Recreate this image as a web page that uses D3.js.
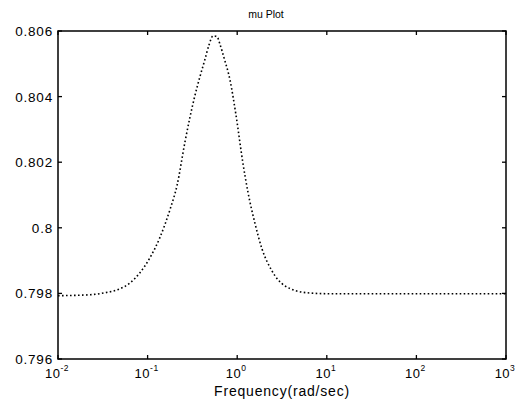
<!DOCTYPE html>
<html>
<head>
<meta charset="utf-8">
<script src="https://cdn.jsdelivr.net/npm/d3@7"></script>
<style>
  body { margin: 0; background: #fff; }
  text { font-family: "Liberation Sans", Arial, sans-serif; fill: #000; }
</style>
</head>
<body>
<div id="chart"></div>
<script>
// frequency (rad/sec) and mu values
const freq = [0.01, 0.0228, 0.0335, 0.0492, 0.0637, 0.0822, 0.1064, 0.137, 0.178, 0.213,
  0.261, 0.297, 0.338, 0.385, 0.437, 0.484, 0.537, 0.595, 0.643, 0.713, 0.832,
  0.970, 1.16, 1.32, 1.58, 1.89, 2.44, 3.41, 6.01, 10.9, 65.6, 1000];
const mu = [0.79793, 0.79796, 0.79802, 0.79814, 0.79832, 0.79863, 0.79909, 0.7997, 0.80056, 0.80129,
  0.80261, 0.80337, 0.80404, 0.80462, 0.80514, 0.80557, 0.80585, 0.80583, 0.80559, 0.80518, 0.8045,
  0.80343, 0.80196, 0.80108, 0.80013, 0.79936, 0.79869, 0.79823, 0.79802, 0.79799, 0.79799, 0.79799];
const yTicks = [0.796, 0.798, 0.8, 0.802, 0.804, 0.806];
const xTicks = [1e-2, 1e-1, 1e0, 1e1, 1e2, 1e3];
const xExps = ["-2", "-1", "0", "1", "2", "3"];

const W = 531, H = 403;
const margin = { top: 31, right: 25, bottom: 44, left: 58 };
const width = W - margin.left - margin.right;
const height = H - margin.top - margin.bottom;

const svg = d3.select("#chart").append("svg")
  .attr("width", W).attr("height", H);
const g = svg.append("g")
  .attr("transform", `translate(${margin.left},${margin.top})`);

const x = d3.scaleLog().domain([1e-2, 1e3]).range([0, width]);
const y = d3.scaleLinear().domain([0.796, 0.806]).range([height, 0]);

// curve
const line = d3.line()
  .x((d, i) => x(freq[i]))
  .y((d) => y(d))
  .curve(d3.curveMonotoneX);

g.append("path")
  .datum(mu)
  .attr("d", line)
  .attr("fill", "none")
  .attr("stroke", "#000")
  .attr("stroke-width", 1.6)
  .attr("stroke-dasharray", "1.6,2.4");

// box
g.append("rect")
  .attr("width", width).attr("height", height)
  .attr("fill", "none").attr("stroke", "#000").attr("stroke-width", 1.5);

// ticks, inside on all four sides
const tl = 4;
yTicks.forEach((t) => {
  g.append("line").attr("x1", 0).attr("x2", tl).attr("y1", y(t)).attr("y2", y(t))
    .attr("stroke", "#000").attr("stroke-width", 1.3);
  g.append("line").attr("x1", width).attr("x2", width - tl).attr("y1", y(t)).attr("y2", y(t))
    .attr("stroke", "#000").attr("stroke-width", 1.3);
  g.append("text")
    .attr("x", -5).attr("y", y(t) + 5)
    .attr("text-anchor", "end")
    .attr("font-size", 13.5)
    .attr("letter-spacing", 0.8)
    .text(d3.format("")(t));
});

xTicks.forEach((t, i) => {
  g.append("line").attr("x1", x(t)).attr("x2", x(t)).attr("y1", height).attr("y2", height - tl)
    .attr("stroke", "#000").attr("stroke-width", 1.3);
  g.append("line").attr("x1", x(t)).attr("x2", x(t)).attr("y1", 0).attr("y2", tl)
    .attr("stroke", "#000").attr("stroke-width", 1.3);
  const lab = g.append("text")
    .attr("x", x(t) - 1).attr("y", height + 19)
    .attr("text-anchor", "middle")
    .attr("font-size", 13)
    .attr("letter-spacing", 0.5);
  lab.append("tspan").text("10");
  lab.append("tspan").attr("dy", -7).attr("font-size", 8.5).text(xExps[i]);
});

// title and axis label
svg.append("text")
  .attr("x", 266).attr("y", 18)
  .attr("text-anchor", "middle")
  .attr("font-size", 10.5)
  .text("mu Plot");

svg.append("text")
  .attr("x", margin.left + width / 2).attr("y", 396)
  .attr("text-anchor", "middle")
  .attr("font-size", 14)
  .attr("letter-spacing", 0.8)
  .text("Frequency(rad/sec)");
</script>
</body>
</html>
